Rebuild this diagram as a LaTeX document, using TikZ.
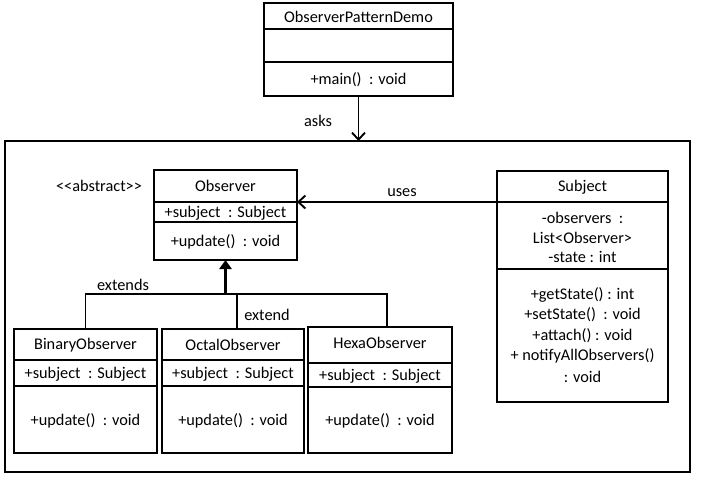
\documentclass[tikz,border=0pt]{standalone}
\usepackage{fontspec}
\setmainfont{Carlito}
\usetikzlibrary{arrows.meta}
\begin{document}
\begin{tikzpicture}[x=1pt,y=-1pt,
  box/.style={draw, line width=1.9pt, anchor=north west, inner sep=0pt, outer sep=0pt},
  txt/.style={font=\fontsize{16.3}{19}\selectfont, inner sep=0pt, anchor=center},
  div/.style={line width=1.9pt},
  conn/.style={line width=1.9pt},
  inh/.style={line width=3pt}]
\useasboundingbox (0,0) rectangle (715,488);
% demo class
\node[box, minimum width=189pt, minimum height=93pt] (demo) at (264,3) {};
\draw[div] (264,29) -- (453,29);
\draw[div] (264,62) -- (453,62);
\node[txt] (demoName) at (358.5,17) {ObserverPatternDemo};
\node[txt] (demoM) at (358.5,80) {+main()\ \ : void};
% outer frame
\node[box, minimum width=685pt, minimum height=331pt] (outer) at (5,141) {};
\draw[conn, -{Straight Barb[length=7pt,width=13pt,line width=1.9pt]}] (demo.south) -- (outer.north -| demo.south);
\node[txt] (asks) at (318,121) {asks};
% Observer
\node[txt] (abs) at (99,186) {<\kern0pt<abstract>\kern0pt>};
\node[box, minimum width=143pt, minimum height=90pt] (obs) at (154,170) {};
\draw[div] (154,202) -- (297,202);
\draw[div] (154,222) -- (297,222);
\node[txt] (obsN) at (225.5,186) {Observer};
\node[txt] (obsA) at (225.5,213) {+subject\ \ : Subject};
\node[txt] (obsM) at (225.5,242) {+update()\ \ : void};
% Subject
\node[box, minimum width=171pt, minimum height=231pt] (sub) at (497,171) {};
\draw[div] (497,202) -- (668,202);
\draw[div] (497,269) -- (668,269);
\node[txt] (subN) at (582.5,187) {Subject};
\node[txt] (subA1) at (582.5,218) {-observers\ \ :};
\node[txt] (subA2) at (582.5,238) {List<Observer>};
\node[txt] (subA3) at (582.5,257) {-state : int};
\node[txt] (subM1) at (582.5,295) {+getState() : int};
\node[txt] (subM2) at (582.5,315) {+setState()\ \ : void};
\node[txt] (subM3) at (582.5,336) {+attach() : void};
\node[txt] (subM4) at (582.5,356) {+ notifyAllObservers()};
\node[txt] (subM5) at (582.5,377) {: void};
\coordinate (usesA) at (497,202);
\coordinate (usesB) at (297,202);
\draw[conn, -{Straight Barb[length=7pt,width=13pt,line width=1.9pt]}] (usesA) -- (usesB);
\node[txt] (uses) at (402,193) {uses};
% children
\node[box, minimum width=143pt, minimum height=124pt] (bin) at (14,329) {};
\draw[div] (14,360) -- (157,360);
\draw[div] (14,386) -- (157,386);
\node[txt] (binN) at (85.5,345) {BinaryObserver};
\node[txt] (binA) at (85.5,374) {+subject\ \ : Subject};
\node[txt] (binM) at (85.5,421) {+update()\ \ : void};
\node[box, minimum width=142pt, minimum height=124pt] (oct) at (162,329) {};
\draw[div] (162,360) -- (304,360);
\draw[div] (162,386) -- (304,386);
\node[txt] (octN) at (233,345) {OctalObserver};
\node[txt] (octA) at (233,374) {+subject\ \ : Subject};
\node[txt] (octM) at (233,421) {+update()\ \ : void};
\node[box, minimum width=144pt, minimum height=126pt] (hex) at (308,327) {};
\draw[div] (308,363) -- (452,363);
\draw[div] (308,387) -- (452,387);
\node[txt] (hexN) at (380,343) {HexaObserver};
\node[txt] (hexA) at (380,376) {+subject\ \ : Subject};
\node[txt] (hexM) at (380,421) {+update()\ \ : void};
% inheritance
\coordinate (jL) at (85.5,294);
\coordinate (jM) at (225.5,294);
\coordinate (jO) at (237,294);
\coordinate (jR) at (387,294);
\draw[conn] (bin.north) -- (jL) -- (jR) -- (jR |- hex.north);
\draw[conn] (jO) -- (jO |- oct.north);
\draw[inh, -{Triangle[length=9pt,width=12pt]}] (jM) -- (obs.south);
\node[txt] (ext1) at (123,285) {extends};
\node[txt] (ext2) at (267,315) {extend};
\end{tikzpicture}
\end{document}
